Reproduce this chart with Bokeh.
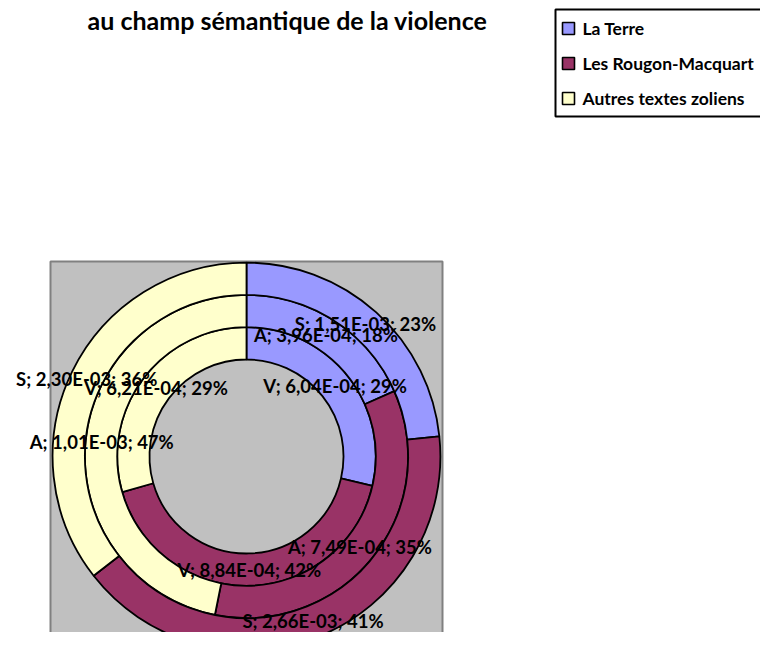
import math
from bokeh.plotting import figure
from bokeh.models import Range1d, ColumnDataSource
from bokeh.core.properties import value
from bokeh.embed import file_html
from bokeh.resources import INLINE

# ---------------- data ----------------
title_text = "au champ sémantique de la violence"
rings = ["V", "A", "S"]                      # inner -> outer
series_names = ["La Terre", "Les Rougon-Macquart", "Autres textes zoliens"]
series_colors = ["#9999FF", "#993366", "#FFFFCC"]
la_terre = [6.04e-4, 3.96e-4, 1.51e-3]
rougon_macquart = [8.84e-4, 7.49e-4, 2.66e-3]
autres_textes = [6.21e-4, 1.01e-3, 2.30e-3]
series_values = [la_terre, rougon_macquart, autres_textes]

# ---------------- layout (pixel coords from top-left) ----------------
W, H = 760, 632
FONT = value("Lato")

def Y(py):
    return H - py  # top-down pixel y -> data y (y up)

cx, cy = 246, Y(456)
hole = 97.0
ring_w = 32.3

p = figure(width=W, height=H, output_backend="svg", toolbar_location=None,
           x_range=Range1d(0, W), y_range=Range1d(0, H),
           min_border=0, background_fill_color="white", border_fill_color="white")
p.xaxis.visible = False
p.yaxis.visible = False
p.grid.visible = False
p.outline_line_color = None

# plot area
p.quad(left=[50], right=[442], top=[Y(261)], bottom=[Y(700)],
       fill_color="#C0C0C0", line_color="#808080", line_width=2)

# donut rings
wx, wy, wr0, wr1, wa0, wa1, wc = [], [], [], [], [], [], []
lx, ly, lt = [], [], []
for ri, ring in enumerate(rings):
    vals = [s[ri] for s in series_values]
    tot = sum(vals)
    cum = 0.0
    r0 = hole + ri * ring_w
    r1 = r0 + ring_w
    for si, v in enumerate(vals):
        f0 = cum / tot
        f1 = (cum + v) / tot
        cum += v
        a_start = math.pi / 2 - 2 * math.pi * f1
        a_end = math.pi / 2 - 2 * math.pi * f0
        wx.append(cx); wy.append(cy); wr0.append(r0); wr1.append(r1)
        wa0.append(a_start); wa1.append(a_end); wc.append(series_colors[si])
        fm = (f0 + f1) / 2
        rm = (r0 + r1) / 2
        am = math.pi / 2 - 2 * math.pi * fm
        lx.append(cx + rm * math.cos(am))
        ly.append(cy + rm * math.sin(am))
        mant = f"{v:.2E}".replace(".", ",")
        lt.append(f"{ring}; {mant}; {round(100 * v / tot)}%")

src = ColumnDataSource(dict(x=wx, y=wy, r0=wr0, r1=wr1, a0=wa0, a1=wa1, c=wc))
p.annular_wedge(x="x", y="y", inner_radius="r0", outer_radius="r1",
                start_angle="a0", end_angle="a1", fill_color="c",
                line_color="black", line_width=1.8, source=src)

p.text(x=lx, y=ly, text=lt, text_font=FONT, text_font_style="bold",
       text_font_size="18.5px", text_color="black", text_align="center",
       text_baseline="middle")

# title
p.text(x=[287], y=[Y(19)], text=[title_text], text_font=FONT, text_font_style="bold",
       text_font_size="25px", text_color="black", text_align="center",
       text_baseline="alphabetic")

# legend
p.quad(left=[555], right=[800], top=[Y(9)], bottom=[Y(116)],
       fill_color="white", line_color="black", line_width=2)
leg_y = [Y(28), Y(63), Y(98)]
p.rect(x=[568] * 3, y=leg_y, width=12, height=12, fill_color=series_colors,
       line_color="black", line_width=1.6)
p.text(x=[582] * 3, y=leg_y, text=series_names, text_font=FONT, text_font_style="bold",
       text_font_size="17.5px", text_color="black", text_align="left",
       text_baseline="middle")

open("out.html", "w").write(file_html(p, INLINE))
